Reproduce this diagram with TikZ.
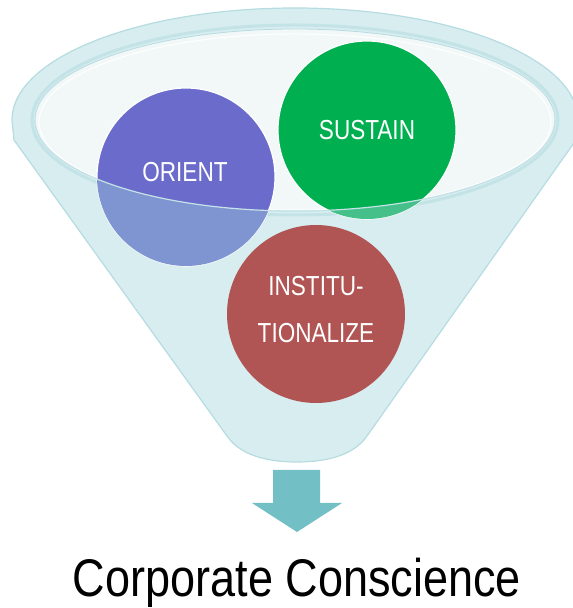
\documentclass[tikz,border=0pt]{standalone}
\usepackage{fontspec}
\usepackage{graphicx}
\setmainfont{Liberation Sans}
\definecolor{funnelfill}{HTML}{D7EDF0}
\definecolor{funnelline}{HTML}{B6DCE1}
\definecolor{mouthfill}{HTML}{F2F8F8}
\definecolor{orientc}{HTML}{6B6BCC}
\definecolor{orientlow}{HTML}{7F95D1}
\definecolor{sustainc}{HTML}{00AF50}
\definecolor{sustainlow}{HTML}{45C08A}
\definecolor{instc}{HTML}{B05454}
\definecolor{arrowc}{HTML}{72BFC5}
\tikzset{
  ball/.style={circle, minimum size=178pt, inner sep=0pt, draw=white, line width=1.2pt},
  balltext/.style={text=white, font=\fontsize{27.5}{38}\selectfont, align=center},
}
\begin{document}
\begin{tikzpicture}[x=1pt,y=1pt]
\useasboundingbox (0,0) rectangle (573,608);
\clip (0,0) rectangle (573,608);

% funnel body with its rim
\filldraw[fill=funnelfill, draw=funnelline, line width=1.2pt]
  (12,488) arc[start angle=180, end angle=0, x radius=283, y radius=112]
  -- (576,468) -- (367,172)
  .. controls (352,150) and (320,146) .. (297,146)
  .. controls (274,146) and (242,150) .. (227,172)
  -- (14,468) -- cycle;

% inner band of the rim
\draw[funnelline!60!funnelfill, line width=3pt]
  (295,488) ellipse[x radius=263, y radius=95];

% mouth of the funnel
\filldraw[fill=mouthfill, draw=funnelline, line width=0.8pt]
  (295,488) ellipse[x radius=260, y radius=91];
\draw[white, line width=1pt]
  (295,486) ellipse[x radius=256, y radius=88];

% the two circles resting in the mouth
\node[ball, fill=orientc] (orient) at (186,431) {};
\node[ball, fill=sustainc] (sustain) at (367,478) {};

% parts seen through the funnel wall
\begin{scope}
  \clip (35,488) arc[start angle=180, end angle=360, x radius=260, y radius=91]
    -- (555,0) -- (35,0) -- cycle;
  \fill[orientlow] (orient.center) circle (89);
  \fill[sustainlow] (sustain.center) circle (89);
\end{scope}
\draw[funnelline!80!white, line width=1.2pt]
  (35,488) arc[start angle=180, end angle=360, x radius=260, y radius=91];

% lower circle
\node[ball, fill=instc, draw=none] (inst) at (316,294) {};

% labels
\node[balltext] (orientlbl) at (185,436) {\scalebox{0.82}[1]{ORIENT}};
\node[balltext] (sustainlbl) at (367,478) {\scalebox{0.82}[1]{SUSTAIN}};
\node[balltext] (instlbl) at (316,297)
  {\scalebox{0.82}[1]{\begin{tabular}{@{}c@{}}INSTITU-\\[9pt]TIONALIZE\end{tabular}}};

% outflow arrow
\coordinate (tip) at (297,76);
\fill[arrowc] (273,138) -- (320,138) -- (320,105) -- (342,105) -- (tip)
  -- (252,105) -- (273,105) -- cycle;

% caption
\node[anchor=base, inner sep=0pt, font=\fontsize{53}{60}\selectfont] (caption) at (297,11)
  {\scalebox{0.85}[1]{Corporate Conscience}};
\end{tikzpicture}
\end{document}
